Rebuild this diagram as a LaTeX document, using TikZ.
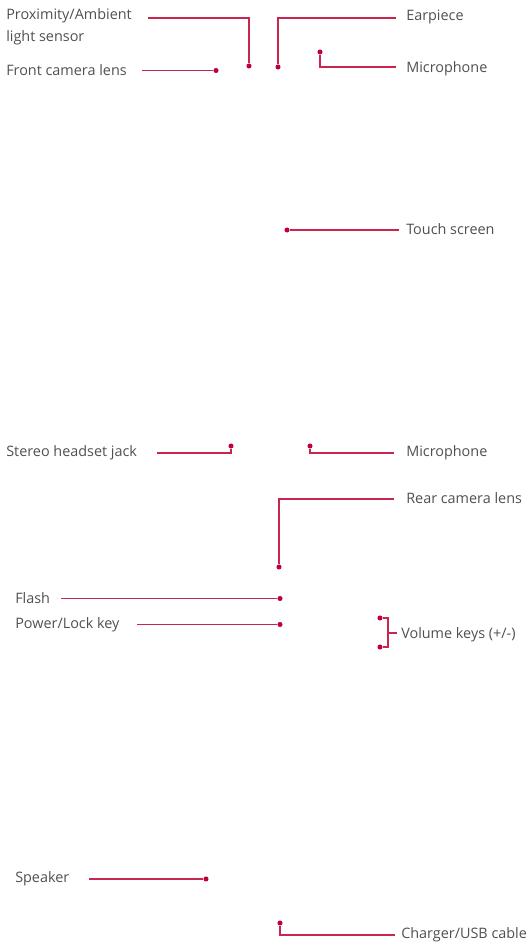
\documentclass[tikz,border=0pt]{standalone}
\usepackage{fontspec}
\setmainfont{Open Sans}
\usepackage{tikz}
\usetikzlibrary{positioning}
\definecolor{leadcolor}{HTML}{C8254F}
\definecolor{dotcolor}{HTML}{C0003C}
\definecolor{labelcolor}{HTML}{505050}
\newcommand{\PartLabelFont}{\fontsize{10.8pt}{16.5pt}\selectfont}
\tikzset{
  part label/.style={
    anchor=west, inner sep=0pt, text=labelcolor,
    font=\PartLabelFont, align=left
  },
  part dot/.style={
    circle, fill=dotcolor, inner sep=0pt, minimum size=3.8pt
  },
  part lead/.style={draw=leadcolor, line width=0.95pt}
}

\begin{document}
\begin{tikzpicture}[x=0.75pt,y=-0.75pt]
    \useasboundingbox (0,0) rectangle (529,942);

    % straight leads, label on the left
    \foreach \part/\Text/\y/\tx/\lx/\dx in {front/{Front camera lens}/70.5/6/142/216,
        flash/{Flash}/598.5/15/61/280,
        power/{Power/Lock key}/624.5/15/137/280,
        speaker/{Speaker}/879/15/89/206} {
        \node[part label] (\part-label) at (\tx,\y) {\Text};
        \node[part dot] (\part-dot) at (\dx,\y) {};
        \coordinate (\part-lead) at (\lx,\y);
        \draw[part lead] (\part-lead) -- (\part-dot);
    }

    % top of the front side
    \node[part label] (prox-label) at (6,27) {Proximity/Ambient\\light sensor};
    \node[part dot] (prox-dot) at (249,66) {};
    \coordinate (prox-lead) at (148,18);
    \draw[part lead] (prox-lead) -| (prox-dot);

    \node[part label] (ear-label) at (406,17) {Earpiece};
    \node[part dot] (ear-dot) at (278,67) {};
    \coordinate (ear-lead) at (396,18);
    \draw[part lead] (ear-lead) -| (ear-dot);

    \node[part label] (mic-label) at (406,69) {Microphone};
    \node[part dot] (mic-dot) at (320,52) {};
    \coordinate (mic-lead) at (396,67);
    \draw[part lead] (mic-dot) |- (mic-lead);

    \node[part label] (touch-label) at (406,229) {Touch screen};
    \node[part dot] (touch-dot) at (287,230) {};
    \coordinate (touch-lead) at (399,230);
    \draw[part lead] (touch-dot) -- (touch-lead);

    % top edge and back
    \node[part label] (jack-label) at (6,453) {Stereo headset jack};
    \node[part dot] (jack-dot) at (231,446) {};
    \coordinate (jack-lead) at (157,453);
    \draw[part lead] (jack-lead) -| (jack-dot);

    \node[part label] (mic2-label) at (406,453) {Microphone};
    \node[part dot] (mic2-dot) at (310,446) {};
    \coordinate (mic2-lead) at (394,453);
    \draw[part lead] (mic2-dot) |- (mic2-lead);

    \node[part label] (rear-label) at (406,498) {Rear camera lens};
    \node[part dot] (rear-dot) at (279,567) {};
    \coordinate (rear-lead) at (394,499);
    \draw[part lead] (rear-lead) -| (rear-dot);

    \node[part label] (vol-label) at (401,635) {Volume keys (+/-)};
    \node[part dot] (volup-dot) at (380,618) {};
    \node[part dot] (voldown-dot) at (380,647) {};
    \coordinate (vol-top) at (388,618);
    \coordinate (vol-bottom) at (388,647);
    \coordinate (vol-tick) at (397,633);
    \draw[part lead] (volup-dot) -- (vol-top) -- (vol-bottom) -- (voldown-dot);
    \draw[part lead] (vol-tick) -- (vol-top |- vol-tick);

    % bottom edge
    \node[part label] (usb-label) at (401,935) {Charger/USB cable};
    \node[part dot] (usb-dot) at (280,923) {};
    \coordinate (usb-lead) at (395,935);
    \draw[part lead] (usb-dot) |- (usb-lead);
\end{tikzpicture}
\end{document}
